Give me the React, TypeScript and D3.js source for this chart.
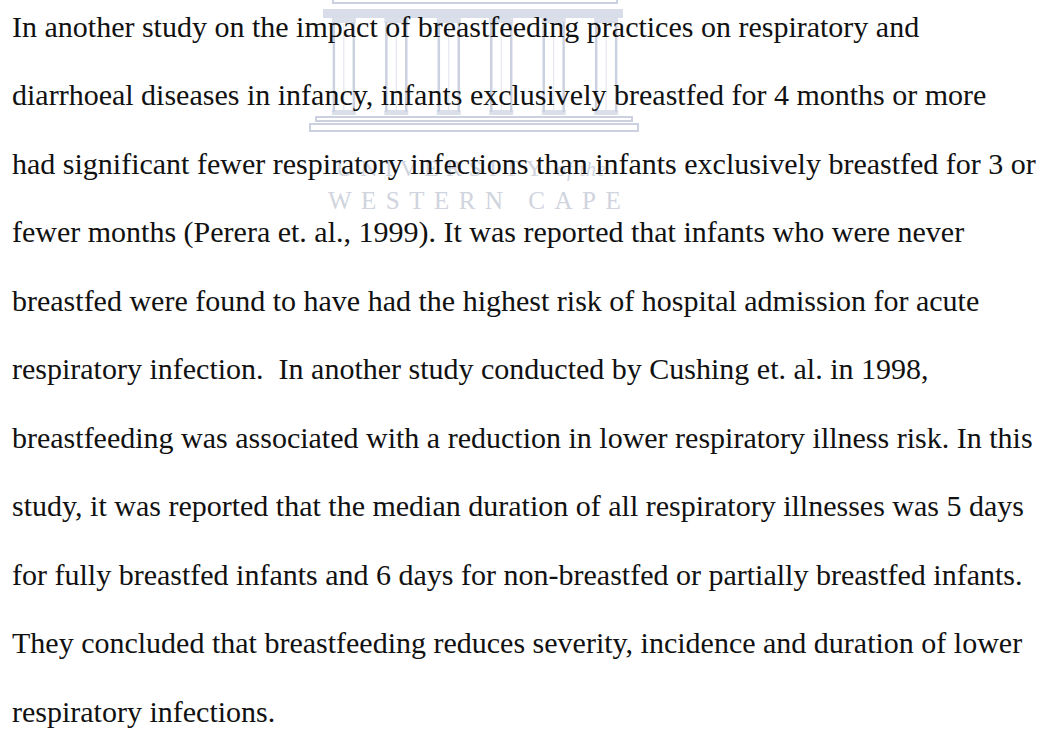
import * as d3 from "d3";

const WIDTH = 1041;
const HEIGHT = 733;

// paragraph lines, as laid out on the page
const lines: string[] = [
  "In another study on the impact of breastfeeding practices on respiratory and",
  "diarrhoeal diseases in infancy, infants exclusively breastfed for 4 months or more",
  "had significant fewer respiratory infections than infants exclusively breastfed for 3 or",
  "fewer months (Perera et. al., 1999). It was reported that infants who were never",
  "breastfed were found to have had the highest risk of hospital admission for acute",
  "respiratory infection.  In another study conducted by Cushing et. al. in 1998,",
  "breastfeeding was associated with a reduction in lower respiratory illness risk. In this",
  "study, it was reported that the median duration of all respiratory illnesses was 5 days",
  "for fully breastfed infants and 6 days for non-breastfed or partially breastfed infants.",
  "They concluded that breastfeeding reduces severity, incidence and duration of lower",
  "respiratory infections.",
];

// watermark pieces
const columns: number[] = [0, 1, 2, 3, 4, 5];
const stampLines: string[] = ["UNIVERSITY of the", "WESTERN CAPE"];

const INK = "#111111";
const STAMP = "#cbd1e1";
const STAMP_TEXT = "#d0d4de";

const Watermark = () => {
  // building spans roughly x 310..637, top of page down to ~133
  const colScale = d3.scaleBand<number>().domain(columns).range([326, 624]).paddingInner(0.62).paddingOuter(0.15);
  const bw = colScale.bandwidth();
  return (
    <g>
      {/* pediment base + entablature */}
      <rect x={333} y={-4} width={284} height={7} fill="none" stroke={STAMP} strokeWidth={2} />
      <rect x={323} y={9} width={300} height={9} fill={STAMP} opacity={0.75} />
      {columns.map((c) => {
        const x = colScale(c) as number;
        return (
          <g key={c}>
            <rect x={x - 2} y={18} width={bw + 4} height={5} fill={STAMP} opacity={0.7} />
            <line x1={x} x2={x} y1={22} y2={112} stroke={STAMP} strokeWidth={2.5} />
            <line x1={x + bw} x2={x + bw} y1={22} y2={112} stroke={STAMP} strokeWidth={2.5} />
            <line x1={x + bw / 2} x2={x + bw / 2} y1={24} y2={110} stroke={STAMP} strokeWidth={1} opacity={0.6} />
            <rect x={x - 2} y={110} width={bw + 4} height={5} fill={STAMP} opacity={0.7} />
          </g>
        );
      })}
      {/* steps */}
      <rect x={316} y={117} width={316} height={4} fill="none" stroke={STAMP} strokeWidth={2} />
      <rect x={310} y={124} width={328} height={7} fill="none" stroke={STAMP} strokeWidth={2} />
      {stampLines.map((s, i) => (
        <text
          key={s}
          x={i === 0 ? 336 : 328}
          y={i === 0 ? 176 : 209}
          fontFamily="'Liberation Serif', 'Times New Roman', serif"
          fontSize={i === 0 ? 24 : 25}
          letterSpacing={i === 0 ? 7 : 9.5}
          fill={STAMP_TEXT}
        >
          {i === 0 ? (
            <>
              UNIVERSITY
              <tspan fontStyle="italic" fontSize={20} letterSpacing={1}> of the</tspan>
            </>
          ) : (
            s
          )}
        </text>
      ))}
    </g>
  );
};

export default function App() {
  const y = d3.scaleLinear().domain([0, lines.length - 1]).range([36.5, 722]);
  return (
    <div style={{ position: "fixed", left: 0, top: 0 }}>
      <svg width={WIDTH} height={HEIGHT} style={{ display: "block", background: "#ffffff" }}>
        <rect width={WIDTH} height={HEIGHT} fill="#ffffff" />
        <Watermark />
        {lines.map((t, i) => (
          <text
            key={i}
            x={12}
            y={y(i)}
            fontFamily="'Liberation Serif', 'Times New Roman', serif"
            fontSize={30}
            fill={INK}
            style={{ whiteSpace: "pre" }}
          >
            {t}
          </text>
        ))}
      </svg>
    </div>
  );
}
